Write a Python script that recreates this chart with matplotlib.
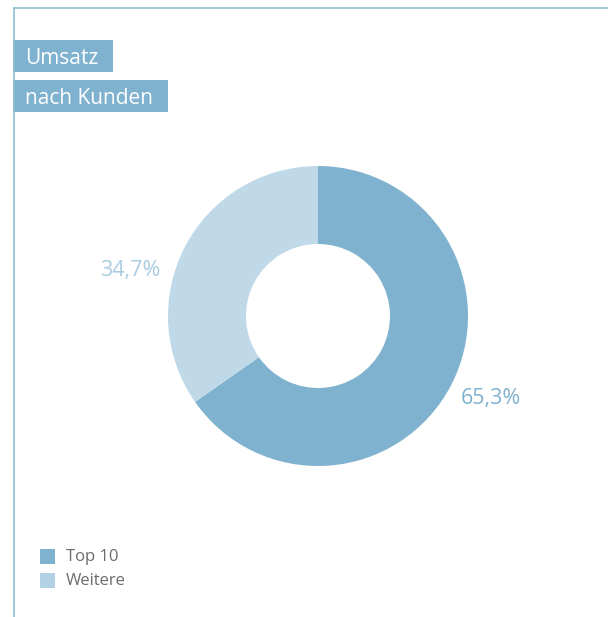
import matplotlib.pyplot as plt
from matplotlib.patches import Rectangle
from matplotlib.lines import Line2D

plt.rcParams['font.family'] = ['Open Sans', 'DejaVu Sans']

# data
categories = ['Top 10', 'Weitere']
shares = [65.3, 34.7]
colors = ['#7fb2cf', '#c0d9e9']
label_colors = ['#7fb2cf', '#a9cbe0']
title_lines = ['Umsatz', 'nach Kunden']

W, H = 608, 617
fig = plt.figure(figsize=(W / 100, H / 100), dpi=100)

def px(x, y):
    # pixel (from top-left) to figure fraction
    return x / W, 1 - y / H

# frame lines
frame_col = '#8fbdd4'
fig.add_artist(Line2D([13.5 / W, 1], [1 - 7.5 / H] * 2, color=frame_col, lw=1.2))
fig.add_artist(Line2D([13.5 / W] * 2, [0, 1 - 7.5 / H], color=frame_col, lw=1.2))

# title boxes
boxes = [(13, 40, 100, 32), (13, 80, 155, 32)]
for (bx, by, bw, bh), txt in zip(boxes, title_lines):
    x0, y1 = px(bx, by + bh)
    fig.add_artist(Rectangle((x0, y1), bw / W, bh / H, transform=fig.transFigure,
                             facecolor='#7fb2cf', edgecolor='none'))
    tx, ty = px(bx + 12, by + bh / 2 + 2)
    fig.text(tx, ty, txt, color='white', fontsize=15, va='center', ha='left')

# donut
cx, cy, r = 318, 316, 150
ax = fig.add_axes([(cx - r) / W, (H - cy - r) / H, 2 * r / W, 2 * r / H])
ax.pie(shares, colors=colors, startangle=90, counterclock=False, radius=1,
       wedgeprops=dict(width=0.52, edgecolor='none'))
ax.set_xlim(-1, 1)
ax.set_ylim(-1, 1)
ax.set_aspect('equal')
ax.axis('off')

label_pos = [(1.153, -0.547), (-1.253, 0.306)]
for val, (lx, ly), col in zip(shares, label_pos, label_colors):
    ax.text(lx, ly, ('%.1f%%' % val).replace('.', ','), color=col, fontsize=15.5,
            ha='center', va='center', clip_on=False)

# legend
for i, (cat, col) in enumerate(zip(categories, colors)):
    y = 549 + i * 24
    x0, y1 = px(40, y + 15)
    fig.add_artist(Rectangle((x0, y1), 15 / W, 15 / H, transform=fig.transFigure,
                             facecolor=col if i == 0 else '#b3d1e4', edgecolor='none'))
    tx, ty = px(66, y + 8)
    fig.text(tx, ty, cat, color='#6b6b6b', fontsize=12, va='center', ha='left')

fig.savefig('out.png', dpi=100)
